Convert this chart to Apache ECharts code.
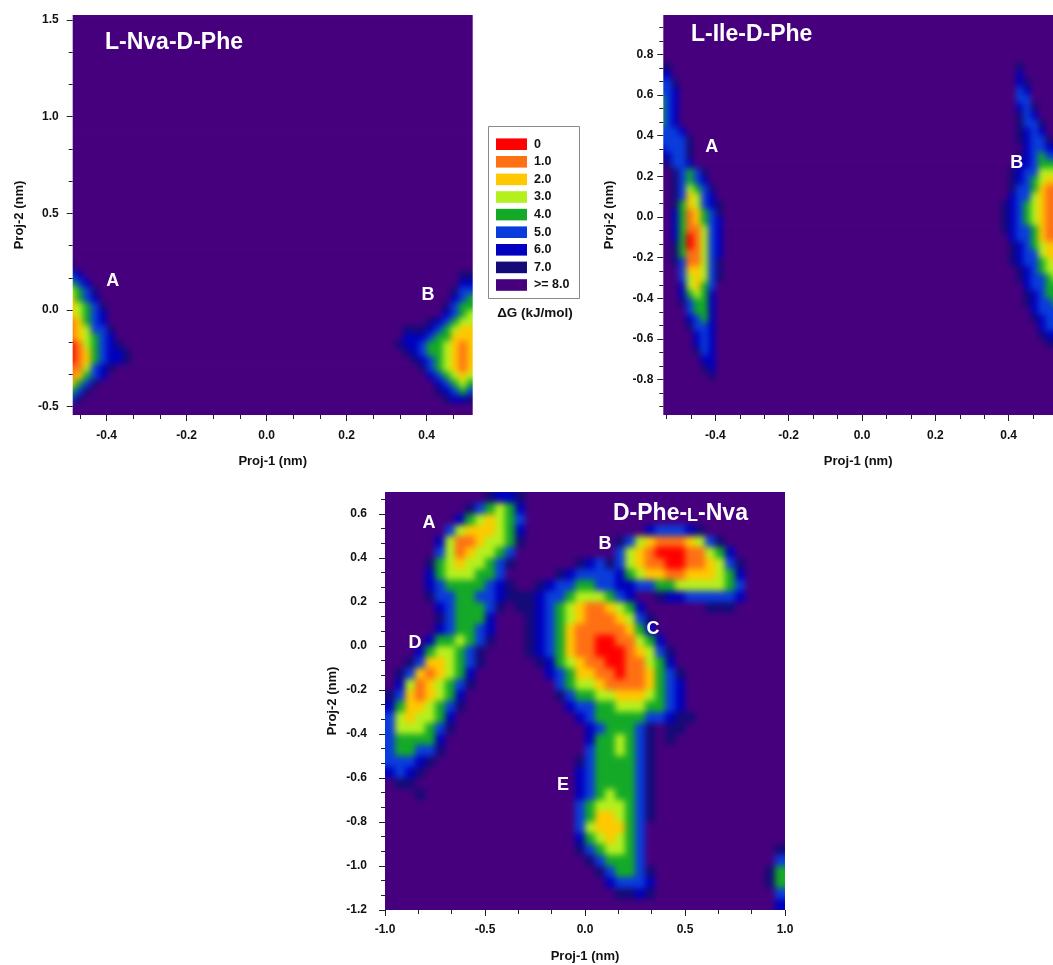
<!DOCTYPE html>
<html>
<head>
<meta charset="utf-8">
<script src="https://cdn.jsdelivr.net/npm/echarts@6/dist/echarts.min.js"></script>
<style>
html,body{margin:0;padding:0;background:#ffffff;overflow:hidden;}
#wrap{position:relative;width:1053px;height:965px;overflow:hidden;}
.layer{position:absolute;left:0;top:0;width:1053px;height:965px;}
#heat{width:1110px;height:1000px;filter:blur(3px);}
</style>
</head>
<body>
<div id="wrap">
  <div id="heat" class="layer"></div>
  <div id="mask" class="layer"></div>
  <div id="chart" class="layer"></div>
</div>
<script>
// ---------------- DATA ----------------
// Free-energy levels ΔG (kJ/mol): one digit per grid cell (0..8, 8 means >= 8.0),
// rows listed from the top of each panel downwards; '|' only separates blocks of columns.
const levelLabels = ['0', '1.0', '2.0', '3.0', '4.0', '5.0', '6.0', '7.0', '>= 8.0'];
const levelColors = ['#FF0000', '#FF7014', '#FFC800', '#B4F01E', '#14AA28', '#0A3CDC', '#0000BE', '#140A78', '#46007D'];

// Panel 1: L-Nva-D-Phe  (cells: x from -0.50 step 0.02 ; y from 1.56 step 0.04 downwards)
const nvaPheCell = [-0.50, 0.02, 1.56, 0.04];
const nvaPheRows = [
"8888888888|8888888888|8888888888|8888888888|88888888888",
"8888888888|8888888888|8888888888|8888888888|88888888888",
"8888888888|8888888888|8888888888|8888888888|88888888888",
"8888888888|8888888888|8888888888|8888888888|88888888888",
"8888888888|8888888888|8888888888|8888888888|88888888888",
"8888888888|8888888888|8888888888|8888888888|88888888888",
"8888888888|8888888888|8888888888|8888888888|88888888888",
"8888888888|8888888888|8888888888|8888888888|88888888888",
"8888888888|8888888888|8888888888|8888888888|88888888888",
"8888888888|8888888888|8888888888|8888888888|88888888888",
"8888888888|8888888888|8888888888|8888888888|88888888888",
"8888888888|8888888888|8888888888|8888888888|88888888888",
"8888888888|8888888888|8888888888|8888888888|88888888888",
"8888888888|8888888888|8888888888|8888888888|88888888888",
"8888888888|8888888888|8888888888|8888888888|88888888888",
"8888888888|8888888888|8888888888|8888888888|88888888888",
"8888888888|8888888888|8888888888|8888888888|88888888888",
"8888888888|8888888888|8888888888|8888888888|88888888888",
"8888888888|8888888888|8888888888|8888888888|88888888888",
"8888888888|8888888888|8888888888|8888888888|88888888888",
"8888888888|8888888888|8888888888|8888888888|88888888888",
"8888888888|8888888888|8888888888|8888888888|88888888888",
"8888888888|8888888888|8888888888|8888888888|88888888888",
"8888888888|8888888888|8888888888|8888888888|88888888888",
"8888888888|8888888888|8888888888|8888888888|88888888888",
"8888888888|8888888888|8888888888|8888888888|88888888888",
"8888888888|8888888888|8888888888|8888888888|88888888888",
"8888888888|8888888888|8888888888|8888888888|88888888888",
"8888888888|8888888888|8888888888|8888888888|88888888888",
"8888888888|8888888888|8888888888|8888888888|88888888888",
"8888888888|8888888888|8888888888|8888888888|88888888888",
"8888888888|8888888888|8888888888|8888888888|88888888888",
"8888888888|8888888888|8888888888|8888888888|88888888888",
"7888888888|8888888888|8888888888|8888888888|88888888888",
"5688888888|8888888888|8888888888|8888888888|88888888877",
"4568888888|8888888888|8888888888|8888888888|88888888866",
"3457888888|8888888888|8888888888|8888888888|88888888755",
"2456888888|8888888888|8888888888|8888888888|88888888654",
"2345788888|8888888888|8888888888|8888888888|88888887544",
"2345688888|8888888888|8888888888|8888888888|88888886543",
"1245688888|8888888888|8888888888|8888888888|88888765433",
"1235578888|8888888888|8888888888|8888888888|88777654322",
"1234568888|8888888888|8888888888|8888888888|88666544222",
"0134567888|8888888888|8888888888|8888888888|87665443212",
"0124566788|8888888888|8888888888|8888888888|88765443212",
"0124566788|8888888888|8888888888|8888888888|88876543212",
"1135678888|8888888888|8888888888|8888888888|88887543212",
"1245688888|8888888888|8888888888|8888888888|88888654323",
"2457888888|8888888888|8888888888|8888888888|88888865434",
"4578888888|8888888888|8888888888|8888888888|88888876545",
"5788888888|8888888888|8888888888|8888888888|88888887667",
"8888888888|8888888888|8888888888|8888888888|88888888888",
"8888888888|8888888888|8888888888|8888888888|88888888888"
];
const nvaPheXRange = [-0.485, 0.515];
const nvaPheYRange = [-0.543, 1.526];
const nvaPheXTicks = [-0.4, -0.2, 0.0, 0.2, 0.4];
const nvaPheYTicks = [-0.5, 0.0, 0.5, 1.0, 1.5];
const nvaPheStates = [['A', -0.385, 0.15], ['B', 0.403, 0.078]];

// Panel 2: L-Ile-D-Phe  (cells: x from -0.56 step 0.02 ; y from 1.00 step 0.04 downwards)
const ilePheCell = [-0.56, 0.02, 1.00, 0.04];
const ilePheRows = [
"8888888888|8888888888|8888888888|8888888888|888888|8888888888",
"8888888888|8888888888|8888888888|8888888888|888888|8888888888",
"8888888888|8888888888|8888888888|8888888888|888888|8888888888",
"8888888888|8888888888|8888888888|8888888888|888888|8888888888",
"8888888888|8888888888|8888888888|8888888888|888888|8888888888",
"8888888888|8888888888|8888888888|8888888888|888888|8888888888",
"7788888888|8888888888|8888888888|8888888888|888888|8887888888",
"6688888888|8888888888|8888888888|8888888888|888888|8886888888",
"5578888888|8888888888|8888888888|8888888888|888888|8886788888",
"5568888888|8888888888|8888888888|8888888888|888888|8885688888",
"4568888888|8888888888|8888888888|8888888888|888888|8885588888",
"4568888888|8888888888|8888888888|8888888888|888888|8886578888",
"4568888888|8888888888|8888888888|8888888888|888888|8887568888",
"4568888888|8888888888|8888888888|8888888888|888888|8887557888",
"5556888888|8888888888|8888888888|8888888888|888888|8887656888",
"5555788888|8888888888|8888888888|8888888888|888888|8887655788",
"6555788888|8888888888|8888888888|8888888888|888888|8888655666",
"7655788888|8888888888|8888888888|8888888888|888888|8887654555",
"8755688888|8888888888|8888888888|8888888888|888888|8886654444",
"8875457888|8888888888|8888888888|8888888888|888888|8876553333",
"8875456888|8888888888|8888888888|8888888888|888888|8876543222",
"8875345788|8888888888|8888888888|8888888888|888888|8875542111",
"8875235688|8888888888|8888888888|8888888888|888888|8865532111",
"8874235678|8888888888|8888888888|8888888888|888888|8765432111",
"8864124578|8888888888|8888888888|8888888888|888888|8765432111",
"8864124568|8888888888|8888888888|8888888888|888888|8765432111",
"8864113568|8888888888|8888888888|8888888888|888888|8765542111",
"8864013568|8888888888|8888888888|8888888888|888888|8865542111",
"8874013568|8888888888|8888888888|8888888888|888888|8876543222",
"8874113568|8888888888|8888888888|8888888888|888888|8876553222",
"8875113578|8888888888|8888888888|8888888888|888888|8876554322",
"8885223578|8888888888|8888888888|8888888888|888888|8887654333",
"8885323578|8888888888|8888888888|8888888888|888888|8887655433",
"8886324588|8888888888|8888888888|8888888888|888888|8888655444",
"8886434688|8888888888|8888888888|8888888888|888888|8888765444",
"8887544688|8888888888|8888888888|8888888888|888888|8888765544",
"8888544688|8888888888|8888888888|8888888888|888888|8888865555",
"8888654688|8888888888|8888888888|8888888888|888888|8888876555",
"8888755688|8888888888|8888888888|8888888888|888888|8888886555",
"8888865688|8888888888|8888888888|8888888888|888888|8888887666",
"8888865688|8888888888|8888888888|8888888888|888888|8888888777",
"8888875688|8888888888|8888888888|8888888888|888888|8888888888",
"8888886688|8888888888|8888888888|8888888888|888888|8888888888",
"8888887688|8888888888|8888888888|8888888888|888888|8888888888",
"8888888788|8888888888|8888888888|8888888888|888888|8888888888",
"8888888888|8888888888|8888888888|8888888888|888888|8888888888",
"8888888888|8888888888|8888888888|8888888888|888888|8888888888",
"8888888888|8888888888|8888888888|8888888888|888888|8888888888",
"8888888888|8888888888|8888888888|8888888888|888888|8888888888",
"8888888888|8888888888|8888888888|8888888888|888888|8888888888"
];
const ilePheXRange = [-0.542, 0.521];
const ilePheYRange = [-0.974, 0.994];
const ilePheXTicks = [-0.4, -0.2, 0.0, 0.2, 0.4];
const ilePheYTicks = [-0.8, -0.6, -0.4, -0.2, 0.0, 0.2, 0.4, 0.6, 0.8];
const ilePheStates = [['A', -0.41, 0.346], ['B', 0.422, 0.266]];

// Panel 3: D-Phe-L-Nva  (cells: x from -1.00 step 0.05 ; y from 0.70 step 0.05 downwards)
const pheNvaCell = [-1.00, 0.05, 0.70, 0.05];
const pheNvaRows = [
"8888888888|7667888888|8888888888|8888888888",
"8888888875|4346888888|8888888888|8888888888",
"8888888643|2345888888|8888888888|8888888888",
"8888885322|2346888888|8888886555|6788888888",
"8888863112|3347888888|8887532111|2357888888",
"8888853123|3458888888|8885321000|1134688888",
"8888743233|4578888887|6575321100|1123578888",
"8888643334|4588888765|5556432211|2223468888",
"8888654444|5678876554|4556655443|3333458888",
"8888755445|5677765543|3345688766|5555568888",
"8888865444|5787765432|1123468888|8877788888",
"8888875444|6888765432|1112357888|8888888888",
"8888865445|6888765421|1111246888|8888888888",
"8888644345|7888765421|1001134688|8888888888",
"8886433457|8888765421|1000123578|8888888888",
"8875223457|8888876432|1100113468|8888888888",
"8752123468|8888886542|2110112457|8888888888",
"8631234578|8888888543|3211112456|8888888888",
"7521234688|8888888754|4332223456|8888888888",
"6422345788|8888888865|5443334456|8888888888",
"5323346888|8888888886|5444445567|7888888888",
"5333457888|8888888888|6544457877|8888888888",
"5444468888|8888888888|6443457878|8888888888",
"5445578888|8888888888|5443457888|8888888888",
"5556788888|8888888887|5444457888|8888888888",
"6567888888|8888888886|5444457888|8888888888",
"8778888888|8888888886|5444457888|8888888888",
"8887888888|8888888886|5434457888|8888888888",
"8888888888|8888888885|4333457888|8888888888",
"8888888888|8888888885|4223457888|8888888888",
"8888888888|8888888885|3222458888|8888888888",
"8888888888|8888888886|4323458888|8888888888",
"8888888888|8888888887|5433458888|8888888887",
"8888888888|8888888888|7544458888|8888888885",
"8888888888|8888888888|8754457888|8888888874",
"8888888888|8888888888|8865556888|8888888874",
"8888888888|8888888888|8887767888|8888888885",
"8888888888|8888888888|8888888888|8888888886"
];
const pheNvaXRange = [-1.0, 1.0];
const pheNvaYRange = [-1.2, 0.7];
const pheNvaXTicks = [-1.0, -0.5, 0.0, 0.5, 1.0];
const pheNvaYTicks = [-1.2, -1.0, -0.8, -0.6, -0.4, -0.2, 0.0, 0.2, 0.4, 0.6];
const pheNvaStates = [['A', -0.78, 0.56], ['B', 0.10, 0.465], ['C', 0.34, 0.079], ['D', -0.85, 0.014], ['E', -0.11, -0.63]];

// ---------------- BUILD ----------------
const FONT = '"Liberation Sans", Arial, Helvetica, sans-serif';
const W = 1053, H = 965;

const grids = [
  { left: 72.7, top: 15, width: 400, height: 400 },
  { left: 663.3, top: 15, width: 389.7, height: 400 },
  { left: 385, top: 492, width: 400, height: 418 }
];

const panels = [
  { rows: nvaPheRows, cell: nvaPheCell, states: nvaPheStates, xr: nvaPheXRange, yr: nvaPheYRange, xt: nvaPheXTicks, yt: nvaPheYTicks, xm: 15, ym: 14, xg: 40, yg: 47 },
  { rows: ilePheRows, cell: ilePheCell, states: ilePheStates, xr: ilePheXRange, yr: ilePheYRange, xt: ilePheXTicks, yt: ilePheYTicks, xm: 15, ym: 10, xg: 40, yg: 47 },
  { rows: pheNvaRows, cell: pheNvaCell, states: pheNvaStates, xr: pheNvaXRange, yr: pheNvaYRange, xt: pheNvaXTicks, yt: pheNvaYTicks, xm: 14, ym: 18, xg: 40, yg: 46 }
];

function toCells(rows, cell) {
  const out = [];
  rows.forEach(function (r, j) {
    const row = r.replace(/\|/g, '');
    for (let i = 0; i < row.length; i++) {
      out.push([cell[0] + (i + 0.5) * cell[1], cell[2] - (j + 0.5) * cell[3], Number(row[i]), i, j]);
    }
  });
  return out;
}

function cellRenderer(dx, dy, ni, nj) {
  const E = 14; // edge cells drawn a little past the frame (hidden by the mask) so borders keep full colour
  return function (params, api) {
    const x = api.value(0), y = api.value(1), i = api.value(3), j = api.value(4);
    const p0 = api.coord([x - dx / 2, y + dy / 2]);
    const p1 = api.coord([x + dx / 2, y - dy / 2]);
    let x0 = p0[0], y0 = p0[1], x1 = p1[0] + 0.7, y1 = p1[1] + 0.7;
    if (i === 0) x0 -= E;
    if (i === ni - 1) x1 += E;
    if (j === 0) y0 -= E;
    if (j === nj - 1) y1 += E;
    const cs = params.coordSys;
    const rect = echarts.graphic.clipRectByRect(
      { x: x0, y: y0, width: x1 - x0, height: y1 - y0 },
      { x: cs.x - E, y: cs.y - E, width: cs.width + 2 * E, height: cs.height + 2 * E }
    );
    if (!rect) return null;
    return { type: 'rect', shape: rect, style: { fill: api.visual('color') } };
  };
}

function minorTicks(ticks, range) {
  const step = (ticks[1] - ticks[0]) / 3;
  const out = [];
  for (let k = -60; k <= 200; k++) {
    if (k % 3 === 0) continue;
    const v = ticks[0] + k * step;
    if (v >= range[0] - 1e-9 && v <= range[1] + 1e-9) out.push(+v.toFixed(6));
  }
  return out;
}

// ---- heat layer (cells only) ----
const heatX = [], heatY = [], heatSeries = [];
panels.forEach(function (p, k) {
  heatX.push({ type: 'value', gridIndex: k, min: p.xr[0], max: p.xr[1], show: false });
  heatY.push({ type: 'value', gridIndex: k, min: p.yr[0], max: p.yr[1], show: false });
  const ni = p.rows[0].replace(/\|/g, '').length, nj = p.rows.length;
  heatSeries.push({
    type: 'custom', coordinateSystem: 'cartesian2d', xAxisIndex: k, yAxisIndex: k,
    data: toCells(p.rows, p.cell), encode: { x: 0, y: 1 },
    renderItem: cellRenderer(p.cell[1], p.cell[3], ni, nj), progressive: 0, silent: true
  });
});
const heat = echarts.init(document.getElementById('heat'), null, { renderer: 'canvas' });
heat.setOption({
  animation: false,
  grid: grids,
  xAxis: heatX,
  yAxis: heatY,
  visualMap: { type: 'continuous', show: false, min: 0, max: 8, dimension: 2, seriesIndex: [0, 1, 2], inRange: { color: levelColors } },
  series: heatSeries
});

// ---- white page around the three plotting frames ----
const g1 = grids[0], g2 = grids[1], g3 = grids[2];
const maskRects = [
  [0, 0, W, g1.top],
  [0, g1.top, g1.left, g1.height],
  [g1.left + g1.width, g1.top, g2.left - (g1.left + g1.width), g1.height],
  [g2.left + g2.width, g2.top, Math.max(0, W - (g2.left + g2.width)), g2.height],
  [0, g1.top + g1.height, W, g3.top - (g1.top + g1.height)],
  [0, g3.top, g3.left, g3.height],
  [g3.left + g3.width, g3.top, W - (g3.left + g3.width), g3.height],
  [0, g3.top + g3.height, W, H - (g3.top + g3.height)]
];
const mask = echarts.init(document.getElementById('mask'), null, { renderer: 'canvas' });
mask.setOption({
  animation: false,
  graphic: maskRects.map(function (r) {
    return { type: 'rect', silent: true, shape: { x: r[0], y: r[1], width: r[2], height: r[3] }, style: { fill: '#ffffff' } };
  })
});

// ---- axes, texts, legend ----
const xAxes = [], yAxes = [];
function addAxes(list, isX, gridIndex, range, ticks, margin, nameGap) {
  const common = { type: 'value', gridIndex: gridIndex, min: range[0], max: range[1], position: isX ? 'bottom' : 'left',
    splitLine: { show: false }, axisLine: { show: false, onZero: false } };
  list.push(Object.assign({}, common, {
    name: isX ? 'Proj-1 (nm)' : 'Proj-2 (nm)', nameLocation: 'middle', nameGap: nameGap, nameRotate: isX ? 0 : 90,
    nameTextStyle: { fontFamily: FONT, fontWeight: 'bold', fontSize: 13, color: '#111' },
    axisTick: { show: true, inside: false, length: 6, customValues: ticks, lineStyle: { color: '#222', width: 1 } },
    axisLabel: { show: true, customValues: ticks, margin: margin, formatter: function (v) { return Number(v).toFixed(1); },
      fontFamily: FONT, fontWeight: 'bold', fontSize: 12, color: '#111' }
  }));
  list.push(Object.assign({}, common, {
    axisLabel: { show: false },
    axisTick: { show: true, inside: false, length: 4, customValues: minorTicks(ticks, range), lineStyle: { color: '#222', width: 1 } }
  }));
}
panels.forEach(function (p, k) {
  addAxes(xAxes, true, k, p.xr, p.xt, p.xm, p.xg);
  addAxes(yAxes, false, k, p.yr, p.yt, p.ym, p.yg);
});

const labelSeries = panels.map(function (p, k) {
  return {
    type: 'scatter', xAxisIndex: 2 * k, yAxisIndex: 2 * k, symbolSize: 0, silent: true,
    itemStyle: { opacity: 1 },
    data: p.states.map(function (s) { return { name: s[0], value: [s[1], s[2]] }; }),
    label: { show: true, position: 'inside', formatter: '{b}', color: '#ffffff', opacity: 1, fontFamily: FONT, fontWeight: 'bold', fontSize: 18 }
  };
});

const legendEls = [{ type: 'rect', shape: { x: 488.5, y: 126.5, width: 91, height: 172 }, style: { fill: '#ffffff', stroke: '#8a8a8a', lineWidth: 1 } }];
levelLabels.forEach(function (lab, k) {
  const cy = 144.2 + 17.6 * k;
  legendEls.push({ type: 'rect', shape: { x: 496, y: cy - 5.8, width: 31, height: 11.6 }, style: { fill: levelColors[k] } });
  legendEls.push({ type: 'text', style: { text: lab, x: 534, y: cy, textAlign: 'left', textVerticalAlign: 'middle', font: 'bold 12.5px ' + FONT, fill: '#111' } });
});
legendEls.push({ type: 'text', style: { text: 'ΔG (kJ/mol)', x: 535, y: 313, textAlign: 'center', textVerticalAlign: 'middle', font: 'bold 13.5px ' + FONT, fill: '#111' } });

const titleStyle = { color: '#ffffff', fontFamily: FONT, fontWeight: 'bold', fontSize: 23 };
const chart = echarts.init(document.getElementById('chart'), null, { renderer: 'canvas' });
chart.setOption({
  backgroundColor: 'transparent',
  animation: false,
  title: [
    { text: 'L-Nva-D-Phe', left: 105, top: 31, padding: 0, textStyle: titleStyle },
    { text: 'L-Ile-D-Phe', left: 691, top: 23, padding: 0, textStyle: titleStyle },
    { text: '{a|D-Phe-}{s|L}{a|-Nva}', left: 613, top: 498, padding: 0,
      textStyle: { rich: {
        a: { color: '#ffffff', fontFamily: FONT, fontWeight: 'bold', fontSize: 23, lineHeight: 27, verticalAlign: 'bottom' },
        s: { color: '#ffffff', fontFamily: FONT, fontWeight: 'bold', fontSize: 18, lineHeight: 27, verticalAlign: 'bottom' }
      } } }
  ],
  grid: grids,
  xAxis: xAxes,
  yAxis: yAxes,
  graphic: legendEls,
  series: labelSeries
});
</script>
</body>
</html>
